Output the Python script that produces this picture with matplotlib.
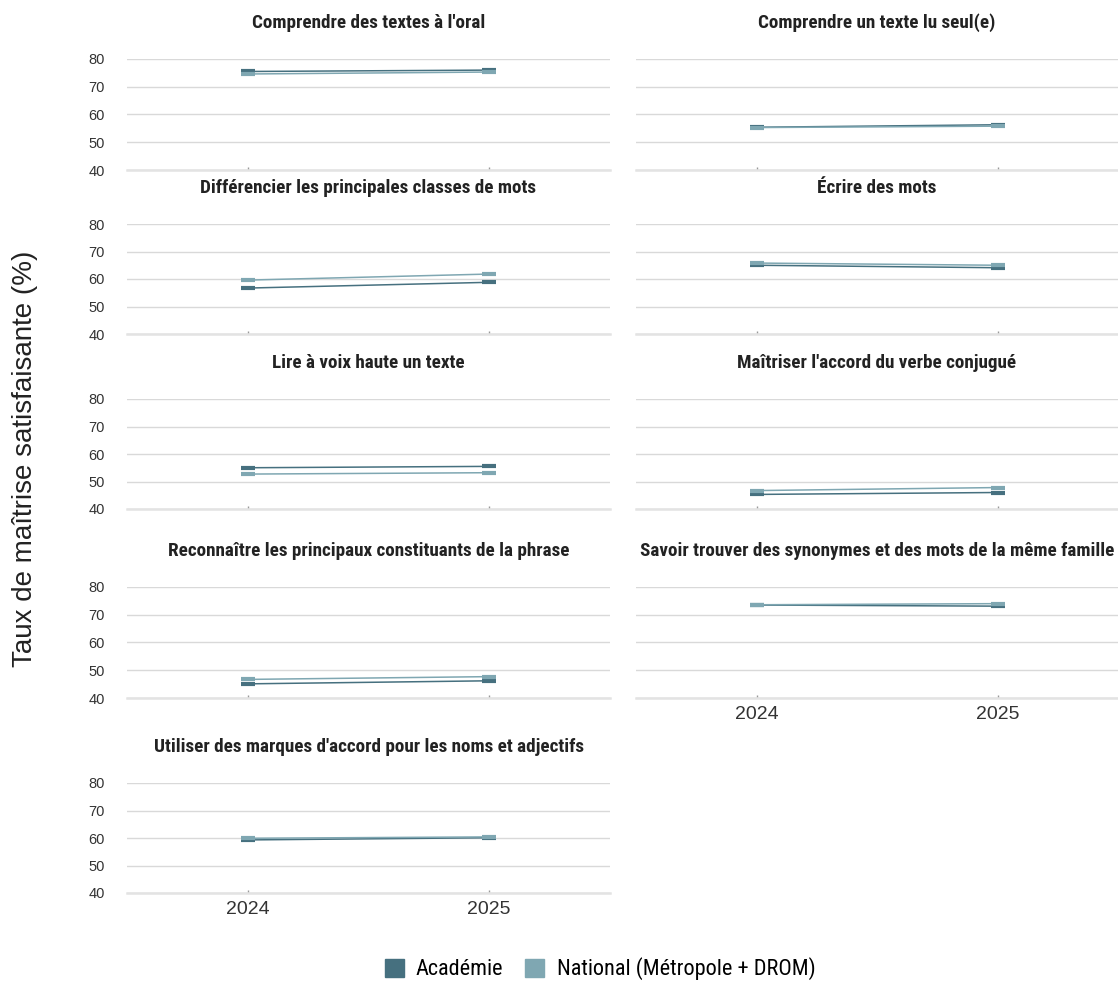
import numpy as np
import matplotlib.pyplot as plt
from matplotlib.patches import Patch

years = ["2024", "2025"]
titles = [
    "Comprendre des textes à l'oral",
    "Comprendre un texte lu seul(e)",
    "Différencier les principales classes de mots",
    "Écrire des mots",
    "Lire à voix haute un texte",
    "Maîtriser l'accord du verbe conjugué",
    "Reconnaître les principaux constituants de la phrase",
    "Savoir trouver des synonymes et des mots de la même famille",
    "Utiliser des marques d'accord pour les noms et adjectifs",
]
academie = [
    [75.5, 76.0],
    [55.4, 56.3],
    [56.7, 58.8],
    [65.0, 64.1],
    [55.0, 55.5],
    [45.3, 46.0],
    [45.1, 46.2],
    [73.5, 73.1],
    [59.3, 60.1],
]
national = [
    [74.6, 75.3],
    [55.3, 55.8],
    [59.6, 61.8],
    [65.8, 65.0],
    [52.7, 53.2],
    [46.7, 47.8],
    [46.7, 47.7],
    [73.6, 74.0],
    [59.9, 60.4],
]
yticks = [40, 50, 60, 70, 80]

c_acad = "#46707f"
c_nat = "#7fa7b2"
narrow = ["Roboto Condensed", "Liberation Sans", "DejaVu Sans"]
plt.rcParams["font.family"] = ["Liberation Sans", "DejaVu Sans"]

W, H = 1118, 981
fig = plt.figure(figsize=(W / 100, H / 100), dpi=100)

# pixel layout of panels
cols = [(127, 610), (636, 1118)]
rows = [(59, 170), (224, 334), (399, 509), (587, 698), (783, 893)]

for i, title in enumerate(titles):
    r, c = divmod(i, 2)
    x0, x1 = cols[c]
    y0, y1 = rows[r]
    ax = fig.add_axes([x0 / W, 1 - y1 / H, (x1 - x0) / W, (y1 - y0) / H])
    x = np.arange(len(years))
    ax.plot(x, academie[i], color=c_acad, lw=1.1, marker="_", ms=10, mew=3, zorder=3)
    ax.plot(x, national[i], color=c_nat, lw=1.1, marker="_", ms=10, mew=3, zorder=4)
    ax.set_xlim(-0.5, 1.5)
    ax.set_ylim(40, 80)
    ax.set_yticks(yticks)
    ax.grid(axis="y", color="#d9d9d9", lw=1)
    ax.set_axisbelow(True)
    for s in ["top", "right", "left"]:
        ax.spines[s].set_visible(False)
    ax.spines["bottom"].set_color("#e3e3e3")
    ax.spines["bottom"].set_linewidth(1.8)
    ax.set_xticks(x)
    ax.tick_params(axis="x", direction="in", length=2.5, color="#999999", width=1)
    ax.tick_params(axis="y", length=0, pad=16, labelsize=10.5, labelcolor="#333333")
    show_x = (c == 0 and r == 4) or (c == 1 and r == 3)
    if show_x:
        ax.set_xticklabels(years, fontsize=14, color="#333333")
        ax.tick_params(axis="x", pad=6)
    else:
        ax.set_xticklabels([])
    if c == 1:
        ax.set_yticklabels([])
    ax.annotate(title, xy=(0.5, 1), xycoords="axes fraction", xytext=(0, 26),
                textcoords="offset points", ha="center", va="center",
                fontsize=13.8, fontweight="bold", family=narrow, color="#222222")

fig.text(25 / W, 1 - 459 / H, "Taux de maîtrise satisfaisante (%)", rotation=90,
         ha="center", va="center", fontsize=20, color="#222222")

handles = [Patch(color=c_acad, label="Académie"),
           Patch(color=c_nat, label="National (Métropole + DROM)")]
fig.legend(handles=handles, loc="center", bbox_to_anchor=(600 / W, 1 - 969 / H),
           ncol=2, frameon=False, prop={"family": narrow, "size": 16},
           handlelength=0.85, handleheight=0.85, handletextpad=0.55, columnspacing=1.0)

fig.savefig("out.png", dpi=100)
